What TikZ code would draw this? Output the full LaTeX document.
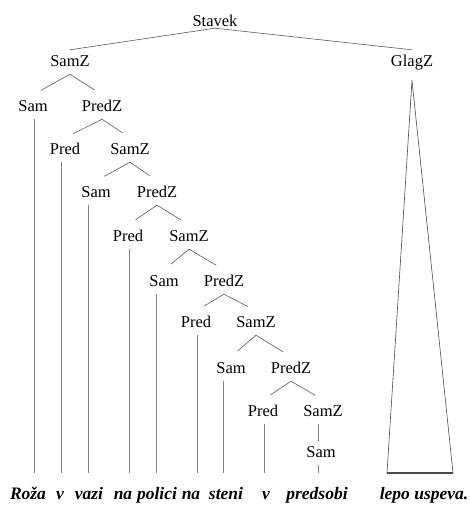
\documentclass[tikz,border=0pt]{standalone}
\usepackage{fontspec}
\setmainfont{Liberation Serif}
\usetikzlibrary{positioning}
\tikzset{
    cat/.style={font=\fontsize{16.5}{18}\selectfont, text height=11pt, text depth=3pt, inner xsep=2pt, inner ysep=5pt},
    word/.style={font=\fontsize{17.5}{20}\selectfont\bfseries\itshape, inner sep=0pt, anchor=base},
    branch/.style={line width=0.6pt, black!65, shorten >=9pt},
    stem/.style={line width=0.9pt, black!50},
    cone/.style={line width=0.6pt, black!70}
}

\begin{document}
\begin{tikzpicture}[x=1pt, y=-1pt]
    \useasboundingbox (0,0) rectangle (470,507);

    % categories
    \node[cat] (stavek) at (215,22) {Stavek};
    \node[cat] (samz0) at (70,62) {SamZ};
    \node[cat] (glagz) at (412,62) {GlagZ};
    \node[cat] (sam1) at (33,107) {Sam};
    \node[cat] (predz1) at (102,107) {PredZ};
    \node[cat] (pred1) at (65,150) {Pred};
    \node[cat] (samz1) at (130,150) {SamZ};
    \node[cat] (sam2) at (96,193) {Sam};
    \node[cat] (predz2) at (157,193) {PredZ};
    \node[cat] (pred2) at (128,237) {Pred};
    \node[cat] (samz2) at (189,237) {SamZ};
    \node[cat] (sam3) at (164,282) {Sam};
    \node[cat] (predz3) at (224,282) {PredZ};
    \node[cat] (pred3) at (196,323) {Pred};
    \node[cat] (samz3) at (256,323) {SamZ};
    \node[cat] (sam4) at (231,369) {Sam};
    \node[cat] (predz4) at (291,369) {PredZ};
    \node[cat] (pred4) at (263,412) {Pred};
    \node[cat] (samz4) at (323,412) {SamZ};
    \node[cat] (sam5) at (321,453) {Sam};

    % words
    \node[word] (w1) at (28,499) {Roža};
    \node[word] (w2) at (60,499) {v};
    \node[word] (w3) at (89,499) {vazi};
    \node[word] (w4) at (123,499) {na};
    \node[word] (w5) at (157,499) {polici};
    \node[word] (w6) at (191,499) {na};
    \node[word] (w7) at (226,499) {steni};
    \node[word] (w8) at (266,499) {v};
    \node[word] (w9) at (317,499) {predsobi};
    \node[word] (w10) at (424,499) {lepo uspeva.};
    \coordinate (ground) at (0,473);

    % top
    \draw[line width=0.6pt, black!65] (samz0.north) -- ([yshift=6pt]stavek.south) -- (glagz.north);

    % branches
    \foreach \p/\l/\r in {samz0/sam1/predz1, predz1/pred1/samz1, samz1/sam2/predz2,
        predz2/pred2/samz2, samz2/sam3/predz3, predz3/pred3/samz3,
        samz3/sam4/predz4, predz4/pred4/samz4} {
        \draw[branch] (\p.south) -- (\l.north);
        \draw[branch] (\p.south) -- (\r.north);
    }
    \draw[stem, line width=0.6pt] ([xshift=-5pt]samz4.south) -- ([xshift=-3pt]sam5.north);

    % stems down to the words
    \foreach \n/\dx in {sam1/1, pred1/-4, sam2/-8, pred2/1, sam3/-8,
        pred3/1, sam4/-8, pred4/1, sam5/-3}
        \draw[stem] ([xshift=\dx pt]\n.south) -- ([xshift=\dx pt]\n.south |- ground);

    % triangle
    \coordinate (tip) at ([yshift=-6pt]glagz.south);
    \coordinate (bl) at (387,473);
    \coordinate (br) at (453,473);
    \draw[cone] (bl) -- (tip) -- (br);
    \draw[cone, line width=1.2pt] (bl) -- (br);
\end{tikzpicture}
\end{document}
